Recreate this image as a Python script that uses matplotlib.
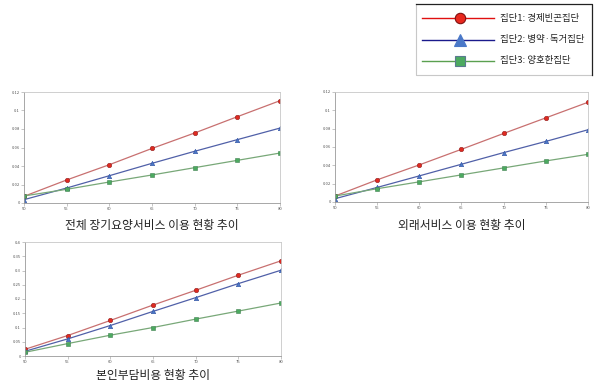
import matplotlib.pyplot as plt

plt.rcParams['font.family'] = ['Noto Sans CJK KR', 'DejaVu Sans']

# 데이터
x = [50, 55, 60, 65, 70, 75, 80]
groups = ['집단1: 경제빈곤집단', '집단2: 병약·독거집단', '집단3: 양호한집단']

total_g1 = [0.0072, 0.0249, 0.0414, 0.0590, 0.0757, 0.0933, 0.1106]
total_g2 = [0.0036, 0.0162, 0.0295, 0.0429, 0.0559, 0.0685, 0.0810]
total_g3 = [0.0076, 0.0148, 0.0227, 0.0303, 0.0382, 0.0461, 0.0540]

home_g1 = [0.0065, 0.0242, 0.0405, 0.0575, 0.0748, 0.0918, 0.1088]
home_g2 = [0.0036, 0.0159, 0.0285, 0.0412, 0.0539, 0.0661, 0.0788]
home_g3 = [0.0065, 0.0145, 0.0220, 0.0296, 0.0372, 0.0448, 0.0520]

cost_g1 = [0.0235, 0.0718, 0.1247, 0.1788, 0.2306, 0.2835, 0.3340]
cost_g2 = [0.0165, 0.0600, 0.1070, 0.1565, 0.2047, 0.2540, 0.3010]
cost_g3 = [0.0130, 0.0435, 0.0730, 0.1000, 0.1294, 0.1576, 0.1860]

W, H = 600, 382
fig = plt.figure(figsize=(6, 3.82), dpi=100)


def px_axes(left, top, right, bottom):
    return fig.add_axes([left / W, 1 - bottom / H, (right - left) / W, (bottom - top) / H])


line_cols = ['#c87070', '#5060a8', '#78a878']
mk_face = ['#e02a20', '#4a78c8', '#4caa60']
mk_edge = ['#902020', '#3050a0', '#408050']
markers = ['o', '^', 's']


def panel(ax, series, ymax, ystep, yticklabels, title, title_y):
    for s, lc, mf, me, m in zip(series, line_cols, mk_face, mk_edge, markers):
        ax.plot(x, s, color=lc, lw=0.9, marker=m, ms=3.2, mfc=mf, mec=me, mew=0.4)
    ax.set_xlim(x[0], x[-1])
    ax.set_ylim(0, ymax)
    ax.set_xticks(x)
    ax.set_yticks([i * ystep for i in range(len(yticklabels))])
    ax.set_yticklabels(yticklabels)
    ax.tick_params(labelsize=3, colors='#999999', labelcolor='#555555', length=2, width=0.4, pad=1)
    for sp in ax.spines.values():
        sp.set_color('#c8c8c8')
        sp.set_linewidth(0.6)
    ax.spines['left'].set_color('#999999')
    ax.spines['bottom'].set_color('#999999')
    bb = ax.get_position()
    fig.text(bb.x0 + bb.width / 2, 1 - title_y / H, title, ha='center', va='center', fontsize=8.5, color='#222222')


ax1 = px_axes(24, 92, 280, 203)
panel(ax1, [total_g1, total_g2, total_g3], 0.12, 0.02,
      ['0', '0.02', '0.04', '0.06', '0.08', '0.1', '0.12'], '전체 장기요양서비스 이용 현황 추이', 225)

ax2 = px_axes(335, 92, 588, 202)
panel(ax2, [home_g1, home_g2, home_g3], 0.12, 0.02,
      ['0', '0.02', '0.04', '0.06', '0.08', '0.1', '0.12'], '외래서비스 이용 현황 추이', 225)

ax3 = px_axes(25, 242, 281, 356)
panel(ax3, [cost_g1, cost_g2, cost_g3], 0.4, 0.05,
      ['0', '0.05', '0.1', '0.15', '0.2', '0.25', '0.3', '0.35', '0.4'], '본인부담비용 현황 추이', 375)

# 범례 (직접 그림)
lg = fig.add_axes([0, 0, 1, 1], zorder=5)
lg.set_xlim(0, W)
lg.set_ylim(H, 0)
lg.axis('off')
lg.plot([416, 416, 592], [4, 75, 75], color='#c8c8c8', lw=0.8)
lg.plot([416, 592, 592], [4, 4, 75], color='#222222', lw=0.9)

leg_line = ['#e01010', '#1a1a8c', '#5aa050']
leg_face = ['#e8281e', '#4a78c8', '#4caa60']
leg_edge = ['#801010', '#4a78c8', '#5a7a90']
leg_ms = [7.5, 9, 7]
for i, (lab, lc, fc, ec, m, ms) in enumerate(zip(groups, leg_line, leg_face, leg_edge, markers, leg_ms)):
    yy = 18 + i * 21.5
    lg.plot([422, 494], [yy, yy], color=lc, lw=1.0)
    lg.plot([460], [yy], marker=m, ms=ms, mfc=fc, mec=ec, mew=0.8, ls='none')
    lg.text(500, yy, lab, fontsize=6.8, va='center', ha='left', color='#222222')

fig.savefig('out.png', dpi=100)
